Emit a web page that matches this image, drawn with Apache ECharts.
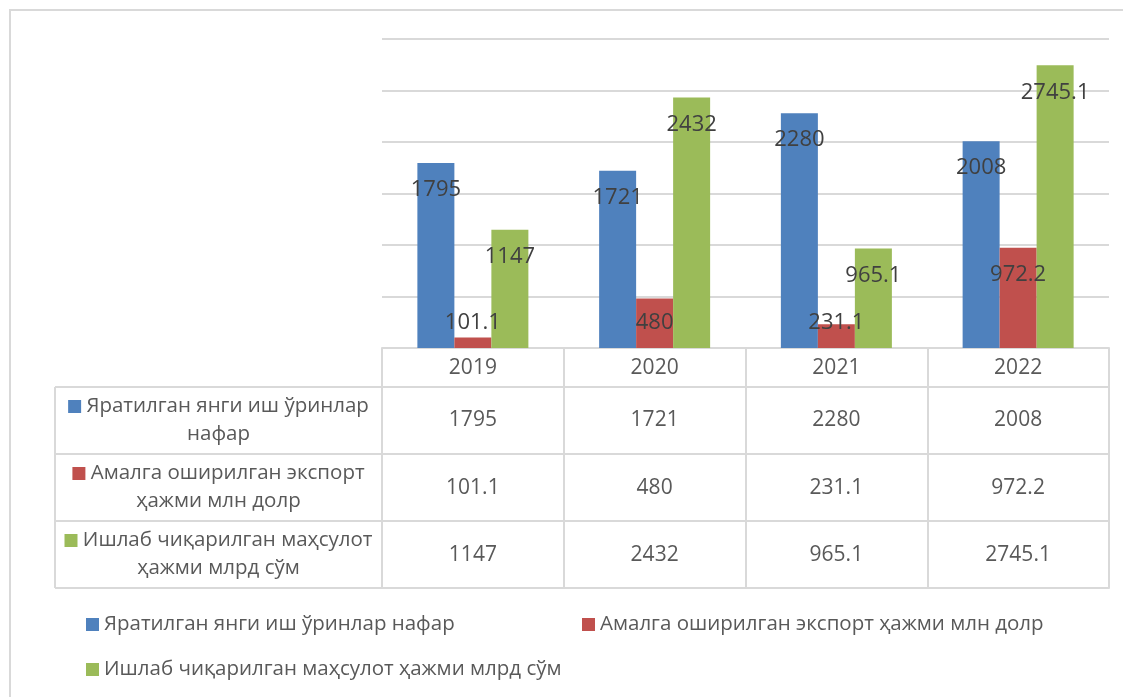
<!DOCTYPE html>
<html>
<head>
<meta charset="utf-8">
<script src="https://cdn.jsdelivr.net/npm/echarts@6/dist/echarts.min.js"></script>
<style>
    html,body{margin:0;padding:0;background:#fff;}
    #chart{width:1123px;height:697px;}
</style>
</head>
<body>
<div id="chart"></div>
<script>
// 年份
var years = ['2019', '2020', '2021', '2022'];
// 系列名称
var seriesNames = [
    'Яратилган янги иш ўринлар нафар',
    'Амалга оширилган экспорт ҳажми млн долр',
    'Ишлаб чиқарилган маҳсулот ҳажми млрд сўм'
];
// 表格左列 (两行)
var rowLabels = [
    ['Яратилган янги иш ўринлар', 'нафар'],
    ['Амалга оширилган экспорт', 'ҳажми млн долр'],
    ['Ишлаб чиқарилган маҳсулот', 'ҳажми млрд сўм']
];
var jobs = [1795, 1721, 2280, 2008];
var exportVol = [101.1, 480, 231.1, 972.2];
var output = [1147, 2432, 965.1, 2745.1];
var yTicks = [0, 500, 1000, 1500, 2000, 2500, 3000];

var chartPage = {
    colors: ['#4F81BD', '#C0504D', '#9BBB59'],
    font: '"Open Sans", "Noto Sans", sans-serif',
    fontSize: 21,
    lineColor: '#d9d9d9',
    textColor: '#595959',
    grid: {left: 382, right: 14, top: 39, bottom: 349},
    headH: 39,
    rowH: 67,
    labelColLeft: 55,
    init: function(){
        this.chart = echarts.init(document.getElementById('chart'), null, {renderer: 'canvas'});
        this.chart.setOption(this.buildOption());
    },
    // 表格一行 = 一个额外的 x 轴
    tableAxis: function(values, offset, tickLen, margin){
        var _this = this;
        return {
            type: 'category',
            gridIndex: 0,
            position: 'bottom',
            offset: offset,
            data: values.map(function(v){ return String(v); }),
            axisLine: {show: true, lineStyle: {color: _this.lineColor, width: 2}},
            axisTick: {show: tickLen > 0, length: tickLen, interval: 0, lineStyle: {color: _this.lineColor, width: 2}},
            axisLabel: {
                show: tickLen > 0, interval: 0, margin: margin,
                fontFamily: _this.font, fontSize: _this.fontSize, lineHeight: 20, color: _this.textColor
            },
            splitLine: {show: false}
        };
    },
    buildGraphic: function(){
        var _this = this;
        var g = [];
        var axisY = 697 - this.grid.bottom;
        var top = axisY + this.headH;
        var left = this.labelColLeft;
        var right = this.grid.left;
        // 外框
        g.push({
            type: 'rect', z: 0, silent: true,
            shape: {x: 10, y: 10, width: 1140, height: 720},
            style: {fill: 'none', stroke: this.lineColor, lineWidth: 2}
        });
        // 左列边框
        for(var i = 0; i <= rowLabels.length; i++){
            g.push({
                type: 'line', silent: true,
                shape: {x1: left, y1: top + i * this.rowH, x2: right, y2: top + i * this.rowH},
                style: {stroke: this.lineColor, lineWidth: 2}
            });
        }
        g.push({
            type: 'line', silent: true,
            shape: {x1: left, y1: top, x2: left, y2: top + rowLabels.length * this.rowH},
            style: {stroke: this.lineColor, lineWidth: 2}
        });
        // 左列文字
        rowLabels.forEach(function(lines, idx){
            g.push({
                type: 'text', silent: true,
                x: (left + right) / 2,
                y: top + idx * _this.rowH + _this.rowH / 2,
                style: {
                    text: '{m|} ' + lines[0] + '\n' + lines[1],
                    align: 'center',
                    verticalAlign: 'middle',
                    fontFamily: _this.font,
                    fontSize: 20.5,
                    lineHeight: 28,
                    fill: _this.textColor,
                    rich: {
                        m: {width: 13, height: 13, backgroundColor: _this.colors[idx]}
                    }
                }
            });
        });
        return g;
    },
    legendAt: function(name, left, top){
        return {
            data: [name],
            left: left, top: top, padding: 0,
            icon: 'rect', itemWidth: 13, itemHeight: 13,
            selectedMode: false,
            textStyle: {fontFamily: this.font, fontSize: 20.5, color: this.textColor}
        };
    },
    buildOption: function(){
        var _this = this;
        var values = [jobs, exportVol, output];
        var h = this.headH, r = this.rowH;
        return {
            animation: false,
            color: this.colors,
            grid: this.grid,
            legend: [
                this.legendAt(seriesNames[0], 86, 614),
                this.legendAt(seriesNames[1], 582, 614),
                this.legendAt(seriesNames[2], 86, 659)
            ],
            xAxis: [
                {
                    type: 'category',
                    data: years,
                    axisLine: {show: true, lineStyle: {color: this.lineColor, width: 2}},
                    axisTick: {show: true, length: h, interval: 0, lineStyle: {color: this.lineColor, width: 2}},
                    axisLabel: {interval: 0, margin: 10, fontFamily: this.font, fontSize: this.fontSize, lineHeight: 20, color: this.textColor}
                },
                this.tableAxis(jobs, h, r, 23),
                this.tableAxis(exportVol, h + r, r, 24),
                this.tableAxis(output, h + 2 * r, r, 24),
                this.tableAxis(years, h + 3 * r, 0, 0)
            ],
            yAxis: {
                type: 'value',
                min: yTicks[0],
                max: yTicks[yTicks.length - 1],
                interval: yTicks[1] - yTicks[0],
                axisLine: {show: false},
                axisTick: {show: false},
                axisLabel: {show: false},
                splitLine: {lineStyle: {color: this.lineColor, width: 2}}
            },
            graphic: this.buildGraphic(),
            series: values.map(function(arr, i){
                return {
                    name: seriesNames[i],
                    type: 'bar',
                    xAxisIndex: 0,
                    data: arr,
                    barWidth: 37,
                    barGap: '0%',
                    label: {
                        show: true,
                        position: 'insideTop',
                        distance: 17,
                        fontFamily: _this.font,
                        fontSize: 22,
                        lineHeight: 20,
                        color: '#404040'
                    },
                    // 短柱标签不低于轴线上方
                    labelLayout: function(p){
                        var bottom = p.rect.y + p.rect.height;
                        var cy = p.labelRect.y + p.labelRect.height / 2;
                        var lim = bottom - 25;
                        return cy > lim ? {dy: lim - cy} : {};
                    }
                };
            })
        };
    }
};

chartPage.init();
</script>
</body>
</html>
